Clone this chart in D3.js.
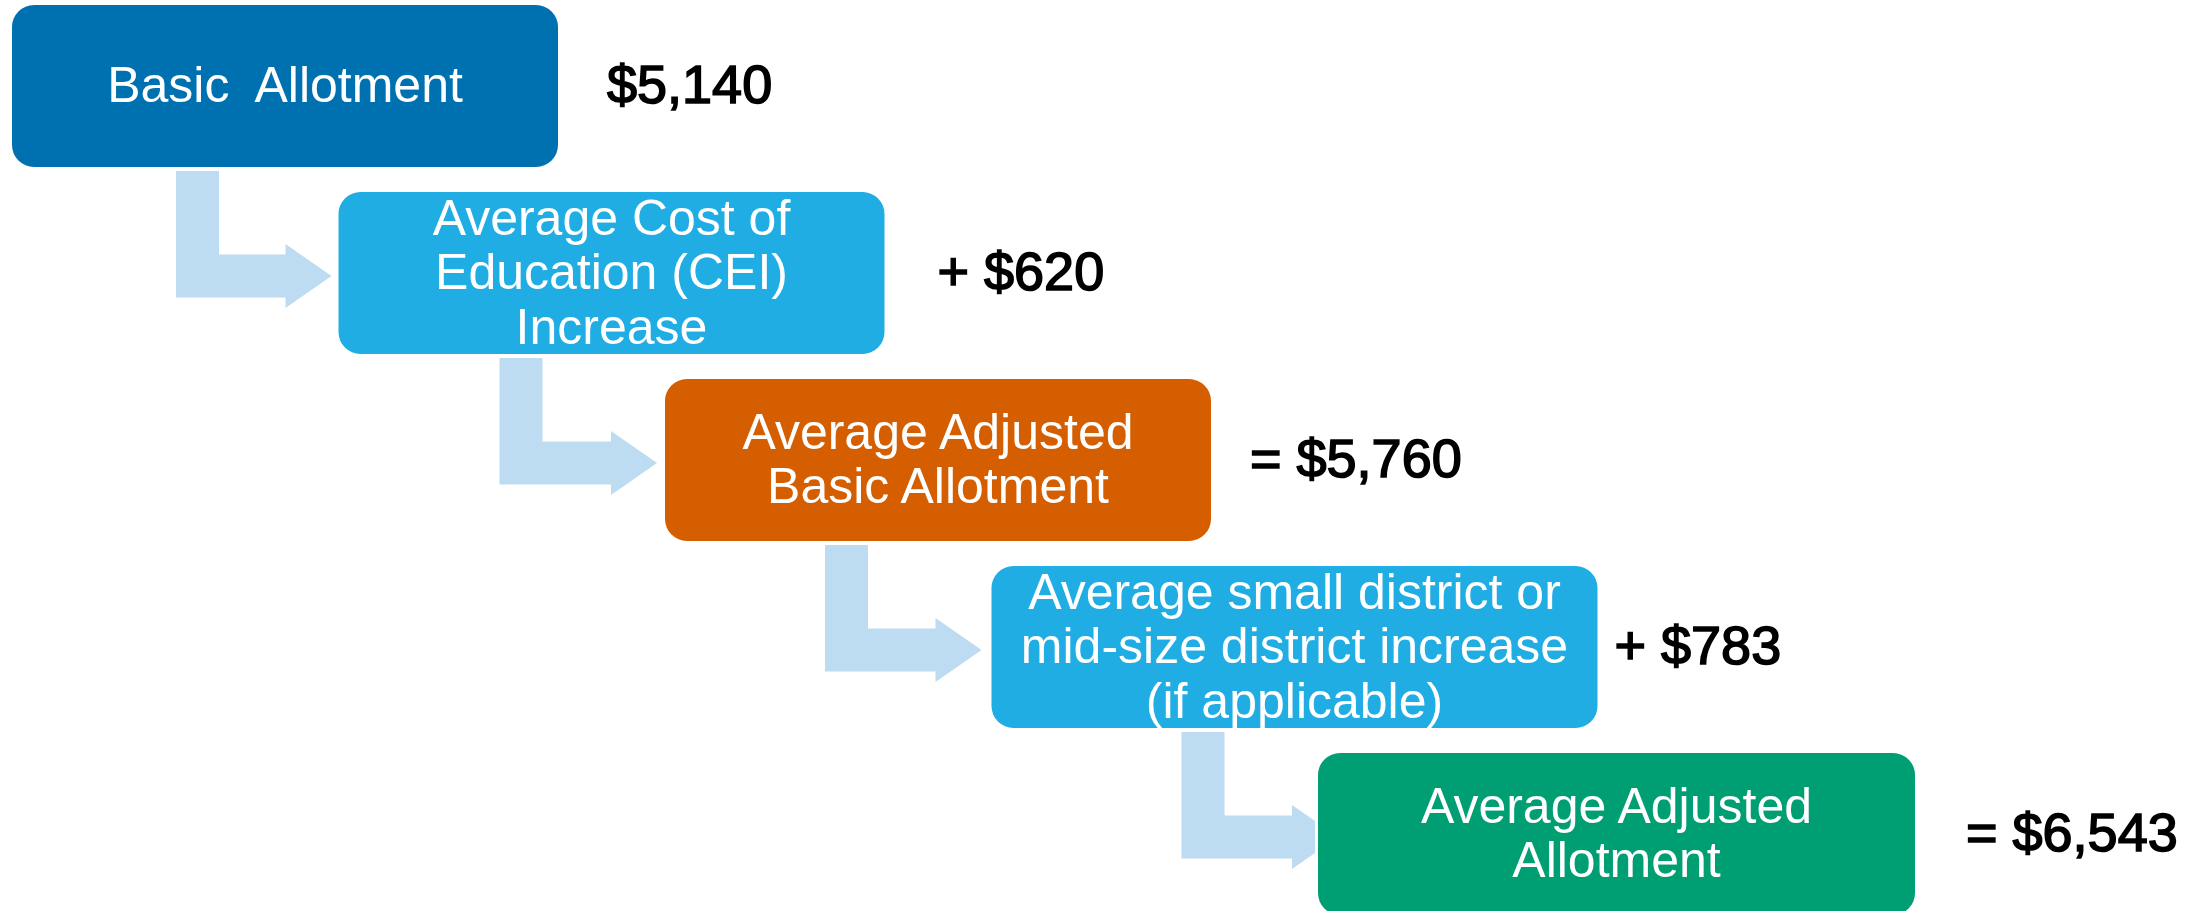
<!DOCTYPE html>
<html>
<head>
<meta charset="utf-8">
<script src="https://cdn.jsdelivr.net/npm/d3@7"></script>
<style>
  html, body { margin: 0; padding: 0; background: #ffffff; }
  svg { display: block; }
</style>
</head>
<body>
<svg id="chart" width="2205" height="911"></svg>
<script>
// ---- data ----
const steps = ["Basic  Allotment",
               "Average Cost of|Education (CEI)|Increase",
               "Average Adjusted|Basic Allotment",
               "Average small district or|mid-size district increase|(if applicable)",
               "Average Adjusted|Allotment"];
const operators = ["", "+", "=", "+", "="];
const amounts = [5140, 620, 5760, 783, 6543];
const boxColors = ["#0071B0", "#1FADE3", "#D45E00", "#1FADE3", "#009E73"];

// ---- layout (styles / sizes) ----
const boxWidths = [546, 546, 546, 606, 597];
const boxHeight = 162;
const labelGaps = [49, 53, 39, 17, 51];
const stemOffsets = [164, 161, 160, 190];   // stem left relative to source box left
const headBackOffsets = [53, 54, 56, 26];   // head base relative to target box left
const tipClip = [7, 8, 10, 3];              // gap kept before target box
const arrowColor = "#BDDBF1";

const svg = d3.select("#chart");
const idx = d3.range(steps.length);
const x = d3.scaleLinear().domain([0, steps.length - 1]).range([12, 1318]);
const y = d3.scaleLinear().domain([0, steps.length - 1]).range([5, 753]);
const fmt = d3.format("$,");

// arrows
const stemW = 43, bandH = 43, headHalf = 32, headLen = 46;
const arrows = svg.append("g");
d3.range(steps.length - 1).forEach(i => {
  const sx = x(i) + stemOffsets[i];
  const sTop = y(i) + boxHeight + 4;
  const cy = y(i + 1) + boxHeight / 2 + 3;
  const hb = x(i + 1) - headBackOffsets[i];
  const tipFull = hb + headLen;
  const limit = x(i + 1) - tipClip[i];
  const pts = [
    [sx, sTop], [sx + stemW, sTop], [sx + stemW, cy - bandH / 2],
    [hb, cy - bandH / 2], [hb, cy - headHalf]
  ];
  if (tipFull <= limit) {
    pts.push([tipFull, cy]);
  } else {
    const f = (limit - hb) / headLen;
    const h = headHalf * (1 - f);
    pts.push([limit, cy - h], [limit, cy + h]);
  }
  pts.push([hb, cy + headHalf], [hb, cy + bandH / 2], [sx, cy + bandH / 2]);
  arrows.append("path")
    .attr("d", d3.line()(pts) + "Z")
    .attr("fill", arrowColor);
});

// boxes
const boxes = svg.append("g").selectAll("g").data(idx).join("g");
boxes.append("rect")
  .attr("x", i => x(i)).attr("y", i => y(i))
  .attr("width", i => boxWidths[i]).attr("height", boxHeight)
  .attr("rx", 22).attr("ry", 22)
  .attr("fill", i => boxColors[i]);

boxes.each(function (i) {
  const lines = steps[i].split("|");
  const cx = x(i) + boxWidths[i] / 2;
  const cy = y(i) + boxHeight / 2;
  const t = d3.select(this).append("text")
    .attr("text-anchor", "middle")
    .attr("fill", "#ffffff")
    .attr("font-family", "'Liberation Sans', Arial, sans-serif")
    .attr("font-size", 50)
    .style("white-space", "pre");
  lines.forEach((ln, k) => {
    t.append("tspan")
      .attr("x", cx)
      .attr("y", cy + 16 + (k - (lines.length - 1) / 2) * 54.5)
      .text(ln);
  });
});

// value labels
svg.append("g").selectAll("text").data(idx).join("text")
  .attr("x", i => x(i) + boxWidths[i] + labelGaps[i])
  .attr("y", i => y(i) + boxHeight / 2 + 17)
  .attr("font-family", "'Liberation Sans', Arial, sans-serif")
  .attr("font-size", 54)
  .attr("fill", "#000")
  .attr("stroke", "#000")
  .attr("stroke-width", 1.6)
  .text(i => (operators[i] ? operators[i] + " " : "") + fmt(amounts[i]));
</script>
</body>
</html>
